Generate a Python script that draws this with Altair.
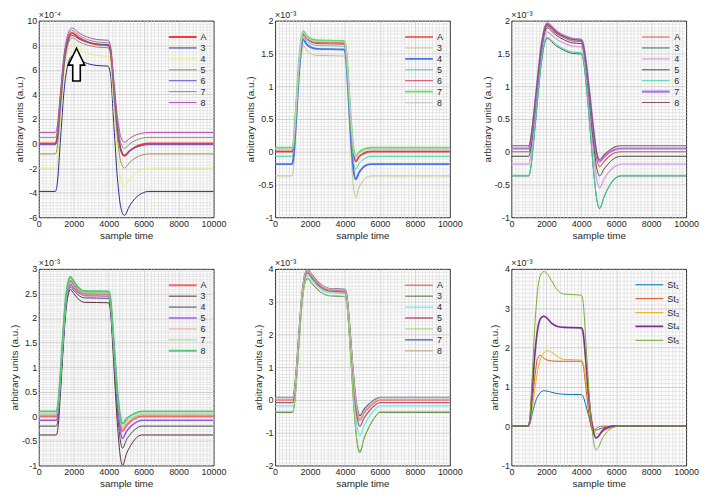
import altair as alt
import pandas as pd

FONT = "Liberation Sans"
INK = "#262626"

# ---------------- data ----------------
names7 = ["A", "3", "4", "5", "6", "7", "8"]

# panel 1 (x10^-4)
p1_x = [0, 950, 1050, 1250, 1450, 1650, 1900, 2300, 2800, 3400, 3950, 4100, 4300, 4500, 4700, 4900, 5200, 5500, 5900, 6300, 10000]
p1_A = [0, 0, 0.45, 3.6, 6.75, 8.4, 9.0, 8.6, 8.25, 8.05, 8.0, 7.55, 4.4, 1.25, -0.55, -1.0, -0.6, -0.3, -0.08, 0, 0]
p1_3 = [-3.9, -3.9, -3.35, 0.5, 4.35, 6.33, 7.1, 6.8, 6.5, 6.34, 6.3, 5.69, 1.44, -2.81, -5.24, -5.85, -5.07, -4.49, -4.06, -3.9, -3.9]
p1_4 = [-2, -2, -1.5, 2.04, 5.58, 7.39, 8.1, 7.7, 7.35, 7.15, 7.1, 6.57, 2.86, -0.85, -2.97, -3.5, -2.9, -2.45, -2.12, -2.0, -2.0]
p1_5 = [-0.85, -0.85, -0.38, 2.93, 6.24, 7.94, 8.6, 8.28, 8.0, 7.84, 7.8, 7.31, 3.88, 0.45, -1.51, -2.0, -1.54, -1.2, -0.94, -0.85, -0.85]
p1_6 = [-0.1, -0.1, 0.35, 3.46, 6.58, 8.18, 8.8, 8.5, 8.24, 8.09, 8.05, 7.6, 4.45, 1.3, -0.5, -0.95, -0.61, -0.35, -0.17, -0.1, -0.1]
p1_7 = [0.5, 0.5, 0.94, 3.98, 7.03, 8.59, 9.2, 8.8, 8.45, 8.25, 8.2, 7.77, 4.76, 1.75, 0.03, -0.4, -0.04, 0.23, 0.43, 0.5, 0.5]
p1_8 = [0.9, 0.9, 1.33, 4.3, 7.28, 8.81, 9.4, 9.0, 8.65, 8.45, 8.4, 7.99, 5.08, 2.18, 0.52, 0.1, 0.42, 0.66, 0.84, 0.9, 0.9]
p1_colors = ["#ff3333", "#2b2b8c", "#e6f07a", "#9c8a5a", "#5a4fc0", "#7a9a6a", "#b050b0"]
p1_widths = [1.9, 1.0, 1.0, 1.0, 1.0, 1.0, 1.0]
arrow_x = [2160]
arrow_y = [6.42]

# panel 2 (x10^-3)
p2_x = [0, 980, 1050, 1200, 1350, 1500, 1620, 1800, 2000, 2400, 3950, 4050, 4200, 4350, 4500, 4620, 4800, 5000, 5200, 5500, 10000]
p2_A = [0, 0, 0.09, 0.63, 1.26, 1.67, 1.80, 1.74, 1.70, 1.67, 1.66, 1.57, 1.03, 0.39, -0.04, -0.15, -0.08, -0.04, -0.015, 0, 0]
p2_3 = [-0.37, -0.37, -0.27, 0.33, 1.02, 1.48, 1.62, 1.55, 1.50, 1.47, 1.46, 1.35, 0.70, -0.05, -0.57, -0.70, -0.55, -0.46, -0.40, -0.37, -0.37]
p2_4 = [-0.19, -0.19, -0.095, 0.475, 1.14, 1.58, 1.71, 1.64, 1.60, 1.57, 1.56, 1.46, 0.87, 0.17, -0.30, -0.42, -0.32, -0.25, -0.21, -0.19, -0.19]
p2_5 = [-0.07, -0.07, 0.02, 0.57, 1.20, 1.62, 1.75, 1.69, 1.65, 1.62, 1.61, 1.52, 0.95, 0.29, -0.16, -0.27, -0.18, -0.13, -0.09, -0.07, -0.07]
p2_6 = [0.01, 0.01, 0.10, 0.63, 1.25, 1.66, 1.78, 1.72, 1.68, 1.65, 1.64, 1.55, 1.02, 0.39, -0.03, -0.14, -0.07, -0.03, 0.0, 0.01, 0.01]
p2_7 = [0.06, 0.06, 0.15, 0.68, 1.31, 1.72, 1.84, 1.77, 1.73, 1.70, 1.69, 1.60, 1.07, 0.46, 0.04, -0.07, -0.01, 0.03, 0.05, 0.06, 0.06]
p2_8 = [0.04, 0.04, 0.13, 0.66, 1.29, 1.70, 1.82, 1.75, 1.71, 1.68, 1.675, 1.59, 1.06, 0.44, 0.02, -0.09, -0.03, 0.0, 0.03, 0.04, 0.04]
p2_colors = ["#e8403a", "#c8c088", "#4a72e0", "#40d0a8", "#d83a5a", "#66dd66", "#c8c8d0"]
p2_widths = [1.5, 1.0, 1.9, 1.0, 1.0, 1.9, 1.2]

# panel 3 (x10^-3)
p3_x = [0, 1000, 1100, 1300, 1500, 1700, 1900, 2050, 2300, 2600, 3000, 3500, 4000, 4100, 4300, 4500, 4700, 4900, 5050, 5300, 5600, 5900, 6300, 10000]
p3_A = [0, 0, 0.10, 0.54, 1.06, 1.54, 1.84, 1.92, 1.87, 1.80, 1.74, 1.69, 1.68, 1.62, 1.26, 0.76, 0.25, -0.13, -0.23, -0.15, -0.07, -0.02, 0, 0]
p3_3 = [-0.37, -0.37, -0.265, 0.22, 0.785, 1.31, 1.65, 1.73, 1.68, 1.61, 1.55, 1.50, 1.49, 1.42, 0.97, 0.36, -0.28, -0.75, -0.87, -0.695, -0.53, -0.42, -0.37, -0.37]
p3_4 = [-0.19, -0.19, -0.09, 0.38, 0.92, 1.43, 1.75, 1.83, 1.78, 1.715, 1.66, 1.61, 1.60, 1.54, 1.13, 0.57, -0.01, -0.44, -0.55, -0.42, -0.305, -0.23, -0.19, -0.19]
p3_5 = [-0.07, -0.07, 0.03, 0.48, 1.01, 1.50, 1.81, 1.89, 1.84, 1.77, 1.71, 1.66, 1.65, 1.59, 1.21, 0.68, 0.13, -0.27, -0.37, -0.265, -0.17, -0.10, -0.07, -0.07]
p3_6 = [-0.36, -0.36, -0.25, 0.23, 0.80, 1.33, 1.67, 1.75, 1.70, 1.63, 1.57, 1.52, 1.51, 1.44, 0.99, 0.37, -0.27, -0.74, -0.86, -0.685, -0.52, -0.41, -0.36, -0.36]
p3_7 = [0.05, 0.05, 0.15, 0.58, 1.10, 1.58, 1.88, 1.96, 1.91, 1.835, 1.77, 1.725, 1.71, 1.65, 1.30, 0.82, 0.32, -0.06, -0.15, -0.08, -0.01, 0.03, 0.05, 0.05]
p3_8 = [0.09, 0.09, 0.18, 0.61, 1.11, 1.57, 1.87, 1.94, 1.89, 1.82, 1.76, 1.71, 1.70, 1.65, 1.30, 0.83, 0.34, -0.03, -0.12, -0.05, 0.02, 0.07, 0.09, 0.09]
p3_colors = ["#e05050", "#2e6e4e", "#d89ae8", "#3e4e42", "#44d4a4", "#a878e0", "#8e5060"]
p3_widths = [1.1, 1.0, 1.3, 1.0, 1.0, 2.1, 1.1]

# panel 4 (x10^-3)
p4_x = [0, 1000, 1100, 1250, 1400, 1550, 1700, 1800, 2000, 2250, 2600, 4000, 4100, 4250, 4400, 4550, 4700, 4800, 5000, 5250, 5500, 5900, 10000]
p4_A = [0, 0, 0.14, 0.83, 1.66, 2.35, 2.68, 2.76, 2.68, 2.56, 2.49, 2.48, 2.34, 1.65, 0.87, 0.20, -0.22, -0.30, -0.195, -0.105, -0.045, 0, 0]
p4_3 = [-0.38, -0.38, -0.23, 0.51, 1.40, 2.14, 2.49, 2.58, 2.50, 2.39, 2.32, 2.31, 2.14, 1.32, 0.39, -0.40, -0.90, -1.0, -0.78, -0.60, -0.47, -0.38, -0.38]
p4_4 = [-0.2, -0.2, -0.06, 0.65, 1.50, 2.21, 2.55, 2.63, 2.56, 2.47, 2.41, 2.40, 2.25, 1.49, 0.63, -0.10, -0.56, -0.65, -0.49, -0.36, -0.27, -0.2, -0.2]
p4_5 = [-0.08, -0.08, 0.06, 0.75, 1.58, 2.27, 2.60, 2.68, 2.61, 2.52, 2.46, 2.45, 2.30, 1.58, 0.77, 0.07, -0.36, -0.45, -0.32, -0.21, -0.14, -0.08, -0.08]
p4_6 = [0.03, 0.03, 0.16, 0.84, 1.64, 2.32, 2.64, 2.72, 2.64, 2.54, 2.47, 2.46, 2.33, 1.65, 0.89, 0.25, -0.16, -0.24, -0.145, -0.065, -0.01, 0.03, 0.03]
p4_7 = [0.05, 0.05, 0.19, 0.88, 1.70, 2.39, 2.72, 2.80, 2.71, 2.60, 2.52, 2.51, 2.37, 1.70, 0.94, 0.29, -0.12, -0.2, -0.11, -0.04, 0.01, 0.05, 0.05]
p4_8 = [0.1, 0.1, 0.24, 0.92, 1.74, 2.43, 2.76, 2.84, 2.75, 2.63, 2.55, 2.54, 2.41, 1.73, 0.98, 0.33, -0.07, -0.15, -0.06, 0.01, 0.06, 0.1, 0.1]
p4_colors = ["#f06a6a", "#5e2a38", "#3a4a58", "#9a5ae8", "#f0a0a0", "#88e888", "#50c878"]
p4_widths = [1.9, 1.0, 1.0, 1.5, 1.0, 1.0, 1.9]

# panel 5 (x10^-3)
p5_x = [0, 1000, 1100, 1250, 1400, 1550, 1700, 1850, 2100, 2400, 2700, 3100, 4000, 4100, 4250, 4400, 4550, 4700, 4850, 5100, 5400, 5700, 6000, 10000]
p5_A = [0, 0, 0.20, 1.10, 2.24, 3.22, 3.77, 3.93, 3.78, 3.58, 3.45, 3.36, 3.33, 3.17, 2.34, 1.28, 0.29, -0.38, -0.62, -0.40, -0.22, -0.08, 0, 0]
p5_3 = [-0.38, -0.38, -0.18, 0.76, 1.95, 2.97, 3.54, 3.70, 3.56, 3.38, 3.26, 3.18, 3.15, 2.96, 1.96, 0.68, -0.51, -1.32, -1.6, -1.17, -0.81, -0.54, -0.38, -0.38]
p5_4 = [-0.18, -0.18, 0.02, 0.93, 2.09, 3.08, 3.64, 3.80, 3.66, 3.48, 3.35, 3.27, 3.24, 3.07, 2.16, 0.98, -0.10, -0.84, -1.1, -0.78, -0.50, -0.30, -0.18, -0.18]
p5_5 = [-0.08, -0.08, 0.12, 1.03, 2.18, 3.17, 3.72, 3.88, 3.73, 3.54, 3.41, 3.32, 3.29, 3.13, 2.27, 1.16, 0.14, -0.55, -0.8, -0.55, -0.33, -0.17, -0.08, -0.08]
p5_6 = [-0.36, -0.36, -0.16, 0.78, 1.97, 2.99, 3.56, 3.72, 3.58, 3.40, 3.27, 3.19, 3.16, 2.97, 1.98, 0.71, -0.47, -1.27, -1.55, -1.13, -0.78, -0.52, -0.36, -0.36]
p5_7 = [0.08, 0.08, 0.28, 1.17, 2.30, 3.28, 3.82, 3.98, 3.83, 3.63, 3.49, 3.40, 3.37, 3.22, 2.41, 1.37, 0.41, -0.25, -0.48, -0.28, -0.12, 0.01, 0.08, 0.08]
p5_8 = [0.06, 0.06, 0.26, 1.15, 2.28, 3.26, 3.80, 3.96, 3.81, 3.61, 3.48, 3.39, 3.36, 3.20, 2.38, 1.33, 0.35, -0.32, -0.55, -0.34, -0.15, -0.02, 0.06, 0.06]
p5_colors = ["#f07878", "#4a6a3a", "#70e8e8", "#b05a78", "#98d860", "#4a58a8", "#c8b898"]
p5_widths = [1.5, 1.0, 1.3, 1.3, 1.0, 1.3, 1.3]

# panel 6 (x10^-3)
names_st = ["St\u2081", "St\u2082", "St\u2083", "St\u2084", "St\u2085"]
p6_x = [0, 950, 1050, 1200, 1350, 1500, 1650, 1850, 2050, 2300, 2600, 3000, 4000, 4100, 4250, 4400, 4550, 4700, 4850, 5000, 5200, 5500, 5800, 6200, 10000]
p6_1 = [0, 0, 0.05, 0.32, 0.58, 0.75, 0.85, 0.90, 0.89, 0.86, 0.83, 0.81, 0.80, 0.76, 0.55, 0.30, 0.08, -0.06, -0.10, -0.08, -0.05, -0.02, 0, 0, 0]
p6_2 = [0, 0, 0.10, 0.65, 1.28, 1.72, 1.80, 1.73, 1.68, 1.66, 1.65, 1.65, 1.65, 1.56, 1.05, 0.45, 0.0, -0.13, -0.06, -0.02, 0.0, 0, 0, 0, 0]
p6_3 = [0, 0, 0.05, 0.45, 0.95, 1.40, 1.68, 1.86, 1.92, 1.88, 1.78, 1.70, 1.68, 1.62, 1.22, 0.72, 0.28, -0.03, -0.18, -0.20, -0.15, -0.08, -0.03, 0, 0]
p6_4 = [0, 0, 0.12, 0.95, 1.85, 2.45, 2.72, 2.80, 2.74, 2.62, 2.54, 2.51, 2.50, 2.40, 1.70, 0.90, 0.25, -0.15, -0.30, -0.25, -0.12, -0.04, 0, 0, 0]
p6_5 = [0, 0, 0.18, 1.35, 2.60, 3.45, 3.82, 3.93, 3.88, 3.70, 3.48, 3.36, 3.33, 3.18, 2.25, 1.15, 0.25, -0.38, -0.60, -0.52, -0.32, -0.14, -0.04, 0, 0]
p6_colors = ["#0072BD", "#D95319", "#EDB120", "#7E2F8E", "#77AC30"]
p6_widths = [1.0, 1.0, 1.0, 1.7, 1.0]

exp4 = "\u00d710\u207b\u2074"
exp3 = "\u00d710\u207b\u00b3"

# ---------------- chart building ----------------
W, H = 176, 198
GRID_MAJOR = "#c4c4c4"
GRID_MINOR = "#e0e0e0"


def frange(lo, hi, step):
    n = int(round((hi - lo) / step))
    return [round(lo + k * step, 6) for k in range(n + 1)]


def panel(xs, series, names, colors, widths, ydom, ymajor, yminor, exp_label,
          leg_x=130, leg_y=11, clip_h=11, arrow=None):
    rows = []
    for name, ys in zip(names, series):
        for xv, yv in zip(xs, ys):
            rows.append({"x": xv, "y": yv, "series": name})
    df = pd.DataFrame(rows)

    ymin, ymax = ydom
    xaxis = alt.Axis(
        values=frange(0, 10000, 200),
        labelExpr="datum.value % 2000 === 0 ? toString(datum.value) : ''",
        labelOverlap=False, labelFlush=False,
        gridColor={"condition": {"test": "datum.value % 2000 === 0", "value": GRID_MAJOR}, "value": GRID_MINOR},
        gridOpacity={"condition": {"test": "datum.value <= 0 || datum.value >= 10000", "value": 0}, "value": 1},
        gridWidth=0.8,
        ticks=False, domain=False, title="sample time",
    )
    yaxis = alt.Axis(
        values=frange(ymin, ymax, yminor),
        labelExpr=(f"abs(datum.value/{ymajor} - round(datum.value/{ymajor})) < 1e-6 ? "
                   "toString(round(datum.value*1000)/1000) : ''"),
        labelOverlap=False, labelFlush=False,
        gridColor={"condition": {"test": f"abs(datum.value/{ymajor} - round(datum.value/{ymajor})) < 1e-6",
                                 "value": GRID_MAJOR}, "value": GRID_MINOR},
        gridOpacity={"condition": {"test": f"datum.value <= {ymin + 1e-9} || datum.value >= {ymax - 1e-9}",
                                   "value": 0}, "value": 1},
        gridWidth=0.8,
        ticks=False, domain=False, title="arbitrary units (a.u.)",
    )
    X = alt.X("x:Q", scale=alt.Scale(domain=[0, 10000], nice=False, zero=False), axis=xaxis)
    Y = alt.Y("y:Q", scale=alt.Scale(domain=[ymin, ymax], nice=False, zero=False), axis=yaxis)

    lines = alt.Chart(df).mark_line(interpolate="monotone", clip=True).encode(
        x=X, y=Y,
        color=alt.Color("series:N", scale=alt.Scale(domain=names, range=colors),
                        legend=alt.Legend(
                            orient="none", legendX=leg_x, legendY=leg_y, title=None,
                            symbolType="stroke", symbolSize=784, symbolStrokeWidth=1.3,
                            clipHeight=clip_h, rowPadding=0, padding=0,
                            labelFont=FONT, labelFontSize=9, labelColor=INK, labelOffset=3,
                        )),
        strokeWidth=alt.StrokeWidth("series:N",
                                    scale=alt.Scale(type="ordinal", domain=names, range=widths),
                                    legend=None),
    )
    txt = alt.Chart(pd.DataFrame({"t": [exp_label]})).mark_text(
        align="left", baseline="alphabetic", font=FONT, fontSize=9, color=INK
    ).encode(x=alt.value(0), y=alt.value(-3), text="t:N")

    layers = [lines, txt]
    if arrow is not None:
        adf = pd.DataFrame({"x": arrow[0], "y": arrow[1]})
        arr = alt.Chart(adf).mark_point(
            shape="M0,-1L0.5,0.03L0.23,0.03L0.23,1L-0.23,1L-0.23,0.03L-0.5,0.03Z",
            size=1089, filled=True, fill="white", stroke="black", strokeWidth=1.6, opacity=1,
        ).encode(x=X, y=Y)
        layers.append(arr)
    return alt.layer(*layers).properties(width=W, height=H)


c1 = panel(p1_x, [p1_A, p1_3, p1_4, p1_5, p1_6, p1_7, p1_8], names7, p1_colors, p1_widths,
           (-6, 10), 2, 0.25, exp4, arrow=(arrow_x, arrow_y))
c2 = panel(p2_x, [p2_A, p2_3, p2_4, p2_5, p2_6, p2_7, p2_8], names7, p2_colors, p2_widths,
           (-1, 2), 0.5, 0.05, exp3)
c3 = panel(p3_x, [p3_A, p3_3, p3_4, p3_5, p3_6, p3_7, p3_8], names7, p3_colors, p3_widths,
           (-1, 2), 0.5, 0.05, exp3)
c4 = panel(p4_x, [p4_A, p4_3, p4_4, p4_5, p4_6, p4_7, p4_8], names7, p4_colors, p4_widths,
           (-1, 3), 0.5, 0.05, exp3)
c5 = panel(p5_x, [p5_A, p5_3, p5_4, p5_5, p5_6, p5_7, p5_8], names7, p5_colors, p5_widths,
           (-2, 4), 1, 0.1, exp3)
c6 = panel(p6_x, [p6_1, p6_2, p6_3, p6_4, p6_5], names_st, p6_colors, p6_widths,
           (-1, 4), 1, 0.1, exp3, leg_x=124, leg_y=9, clip_h=14)

chart = alt.concat(
    c1, c2, c3, c4, c5, c6, columns=3,
    spacing={"row": 52, "column": 62}, bounds="flush",
).resolve_scale(color="independent", strokeWidth="independent").properties(
    padding=0, background="white"
).configure_view(stroke=INK, strokeWidth=1).configure_axis(
    labelFont=FONT, labelFontSize=9, labelColor=INK, labelPadding=2,
    titleFont=FONT, titleFontSize=10, titleFontWeight="normal", titleColor=INK, titlePadding=2,
)

chart.save("out.html", embed_options={"renderer": "svg", "actions": False})
